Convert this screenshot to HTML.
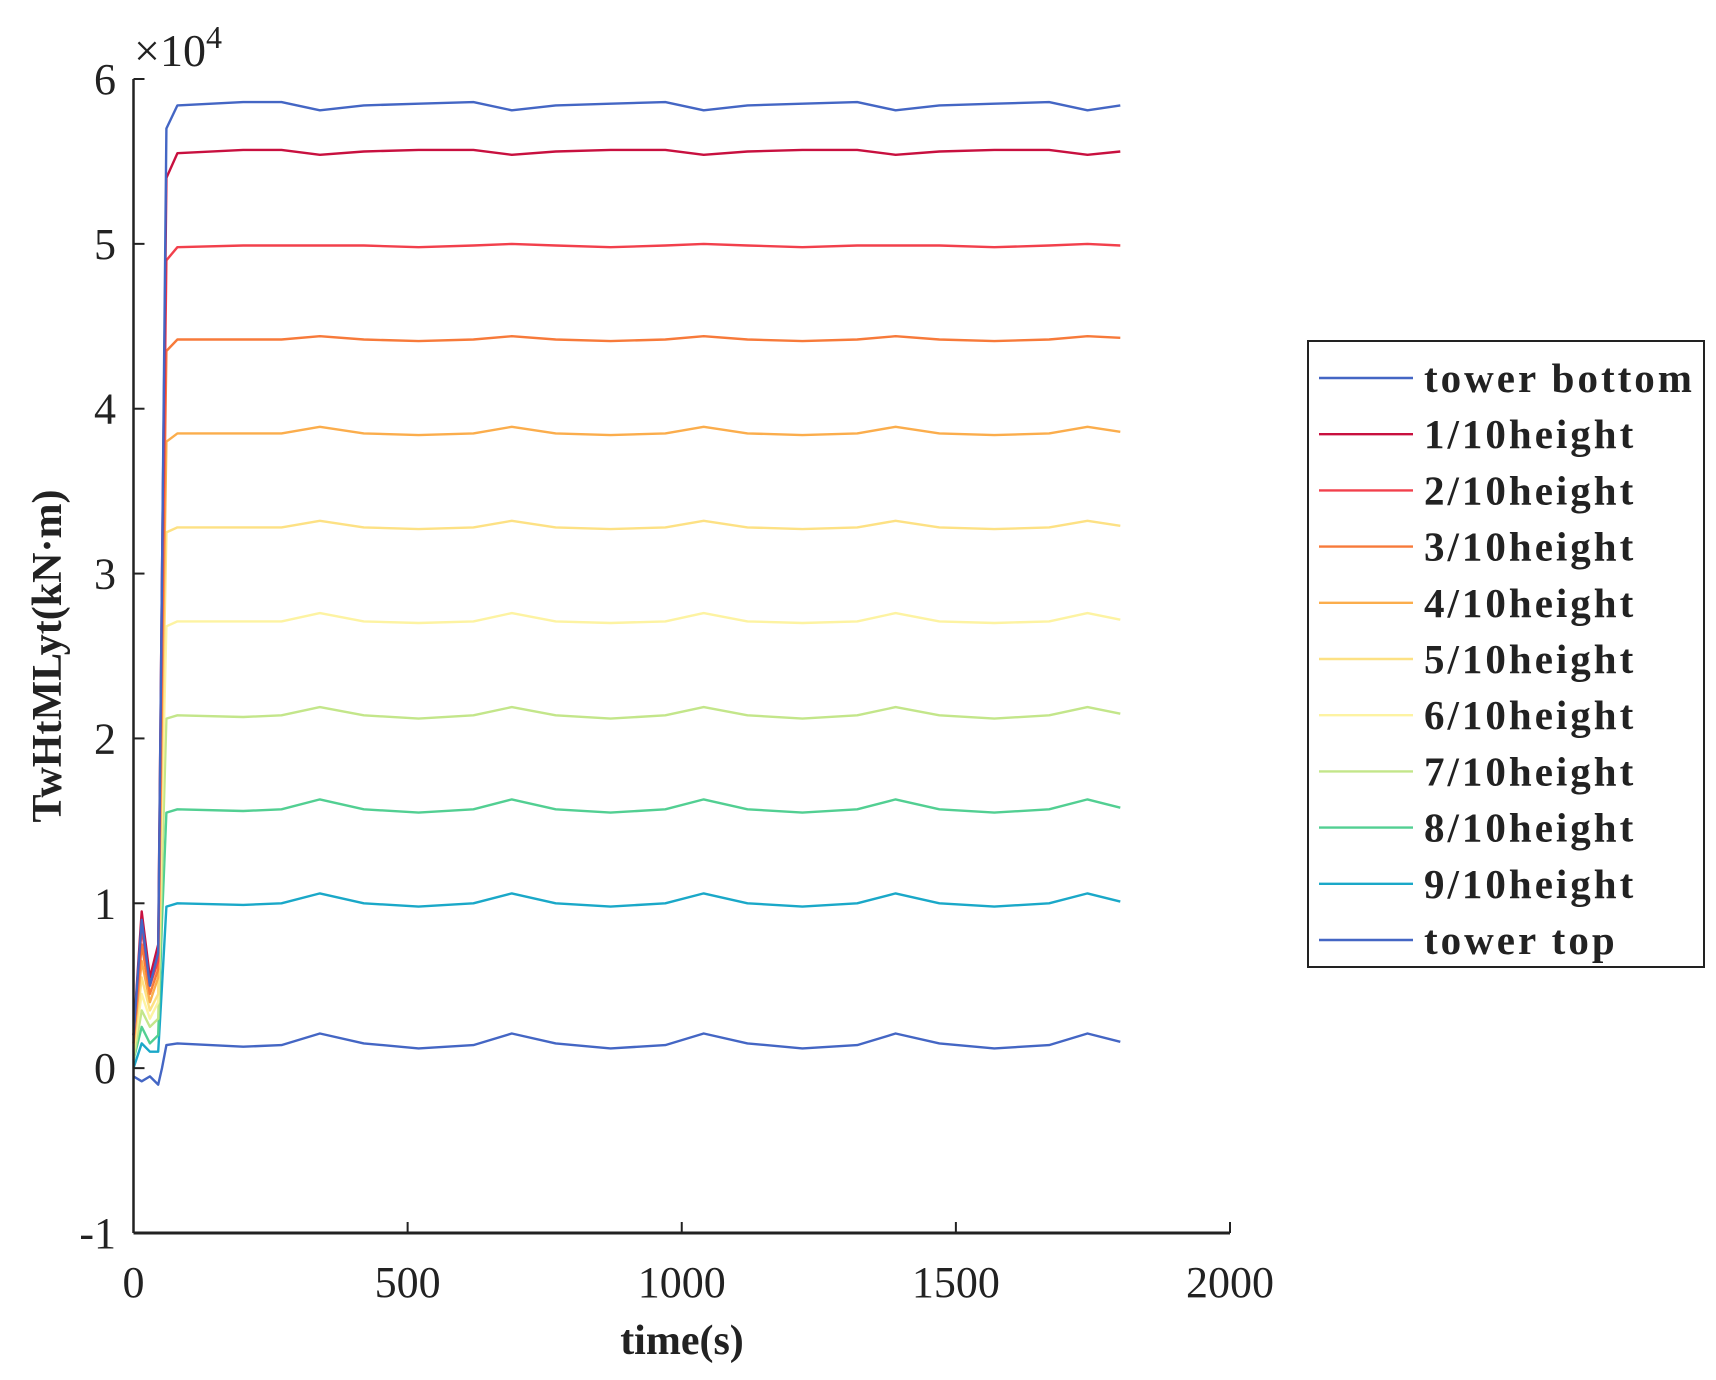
<!DOCTYPE html>
<html><head><meta charset="utf-8"><style>
html,body{margin:0;padding:0;background:#fff}
svg{display:block}
text{font-family:"Liberation Serif",serif;fill:#222}
</style></head><body>
<svg id="chart" width="1716" height="1380" viewBox="0 0 1716 1380" xmlns="http://www.w3.org/2000/svg">
<g id="lines"></g>
<g id="axes"></g>
<g id="legend"></g>
</svg>
<script>
const times=[0,15,30,45,52,60,80,200,270,340,420,520,620,690,770,870,970,1040,1120,1220,1320,1390,1470,1570,1670,1740,1800];
const seriesNames=["tower bottom","1/10height","2/10height","3/10height","4/10height","5/10height","6/10height","7/10height","8/10height","9/10height","tower top"];
const seriesColors=["#4466c4","#c8103f","#f2404c","#f77a3a","#fbad4c","#fde184","#fdf3a2","#c3e68a","#52cf92","#1aa8c8","#4466c4"];
const sBottom=[0.2,0.9,0.5,0.7,3.0,5.7,5.84,5.86,5.86,5.81,5.84,5.85,5.86,5.81,5.84,5.85,5.86,5.81,5.84,5.85,5.86,5.81,5.84,5.85,5.86,5.81,5.84];
const s1=[0.2,0.95,0.55,0.75,3.0,5.4,5.55,5.57,5.57,5.54,5.56,5.57,5.57,5.54,5.56,5.57,5.57,5.54,5.56,5.57,5.57,5.54,5.56,5.57,5.57,5.54,5.56];
const s2=[0.2,0.85,0.5,0.65,2.8,4.9,4.98,4.99,4.99,4.99,4.99,4.98,4.99,5.0,4.99,4.98,4.99,5.0,4.99,4.98,4.99,4.99,4.99,4.98,4.99,5.0,4.99];
const s3=[0.15,0.75,0.45,0.6,2.5,4.35,4.42,4.42,4.42,4.44,4.42,4.41,4.42,4.44,4.42,4.41,4.42,4.44,4.42,4.41,4.42,4.44,4.42,4.41,4.42,4.44,4.43];
const s4=[0.15,0.65,0.4,0.55,2.2,3.8,3.85,3.85,3.85,3.89,3.85,3.84,3.85,3.89,3.85,3.84,3.85,3.89,3.85,3.84,3.85,3.89,3.85,3.84,3.85,3.89,3.86];
const s5=[0.1,0.55,0.35,0.45,1.9,3.25,3.28,3.28,3.28,3.32,3.28,3.27,3.28,3.32,3.28,3.27,3.28,3.32,3.28,3.27,3.28,3.32,3.28,3.27,3.28,3.32,3.29];
const s6=[0.1,0.45,0.3,0.4,1.6,2.68,2.71,2.71,2.71,2.76,2.71,2.70,2.71,2.76,2.71,2.70,2.71,2.76,2.71,2.70,2.71,2.76,2.71,2.70,2.71,2.76,2.72];
const s7=[0.05,0.35,0.25,0.3,1.2,2.12,2.14,2.13,2.14,2.19,2.14,2.12,2.14,2.19,2.14,2.12,2.14,2.19,2.14,2.12,2.14,2.19,2.14,2.12,2.14,2.19,2.15];
const s8=[0.05,0.25,0.15,0.2,0.9,1.55,1.57,1.56,1.57,1.63,1.57,1.55,1.57,1.63,1.57,1.55,1.57,1.63,1.57,1.55,1.57,1.63,1.57,1.55,1.57,1.63,1.58];
const s9=[0.0,0.15,0.1,0.1,0.5,0.98,1.0,0.99,1.0,1.06,1.0,0.98,1.0,1.06,1.0,0.98,1.0,1.06,1.0,0.98,1.0,1.06,1.0,0.98,1.0,1.06,1.01];
const sTop=[-0.05,-0.08,-0.05,-0.1,0.0,0.14,0.15,0.13,0.14,0.21,0.15,0.12,0.14,0.21,0.15,0.12,0.14,0.21,0.15,0.12,0.14,0.21,0.15,0.12,0.14,0.21,0.16];
const seriesValues=[sBottom,s1,s2,s3,s4,s5,s6,s7,s8,s9,sTop];
const xTicks=[0,500,1000,1500,2000];
const yTicks=[-1,0,1,2,3,4,5,6];

const NS="http://www.w3.org/2000/svg";
const X0=133.5,X1=1230,Y6=79,Y_1=1233;
const xs=t=>X0+(t/2000)*(X1-X0);
const ys=v=>Y6+(6-v)/7*(Y_1-Y6);
function mk(tag,attrs,parent){const e=document.createElementNS(NS,tag);for(const k in attrs)e.setAttribute(k,attrs[k]);parent.appendChild(e);return e;}
const gl=document.getElementById('lines'),ga=document.getElementById('axes'),gg=document.getElementById('legend');

for(let s=seriesValues.length-1;s>=0;s--){
  const pts=times.map((t,i)=>xs(t).toFixed(1)+','+ys(seriesValues[s][i]).toFixed(1)).join(' ');
  const p=mk('polyline',{points:pts,fill:'none',stroke:seriesColors[s],'stroke-width':2.4,'stroke-linejoin':'round'},gl);
  
  
}
let a=mk('line',{x1:X0,y1:Y6,x2:X0,y2:Y_1,stroke:'#222','stroke-width':2.5},ga);

a=mk('line',{x1:X0,y1:Y_1,x2:X1,y2:Y_1,stroke:'#222','stroke-width':3},ga);

xTicks.forEach(t=>{
  const l=mk('line',{x1:xs(t),y1:Y_1,x2:xs(t),y2:Y_1-11,stroke:'#222','stroke-width':2},ga);
  
  const tx=mk('text',{x:xs(t),y:1297,'text-anchor':'middle','font-size':44},ga);
  
  tx.textContent=t;
});
yTicks.forEach(v=>{
  const l=mk('line',{x1:X0,y1:ys(v),x2:X0+11,y2:ys(v),stroke:'#222','stroke-width':2},ga);
  
  const tx=mk('text',{x:116,y:ys(v)+15,'text-anchor':'end','font-size':44},ga);
  
  tx.textContent=v;
});
let t=mk('text',{x:134,y:66,'font-size':46},ga);

t.innerHTML='×10<tspan font-size="32" dy="-18">4</tspan>';
t=mk('text',{x:682,y:1354,'text-anchor':'middle','font-size':42,'font-weight':'bold'},ga);

t.textContent='time(s)';
t=mk('text',{x:0,y:0,'text-anchor':'middle','font-size':42,'font-weight':'bold',transform:'translate(61,656) rotate(-90)'},ga);

t.textContent='TwHtMLyt(kN·m)';
let r=mk('rect',{x:1308,y:341,width:396,height:626,fill:'#fff',stroke:'#222','stroke-width':2},gg);

seriesNames.forEach((n,i)=>{
  const y=378+i*56.2;
  const g=mk('g',{},gg);
  
  mk('line',{x1:1319,y1:y,x2:1413,y2:y,stroke:seriesColors[i],'stroke-width':2.4},g);
  const tx=mk('text',{x:1424,y:y+14,'font-size':41,'font-weight':'bold','letter-spacing':3,fill:'#111'},g);
  tx.textContent=n;
});
</script>
</body></html>
